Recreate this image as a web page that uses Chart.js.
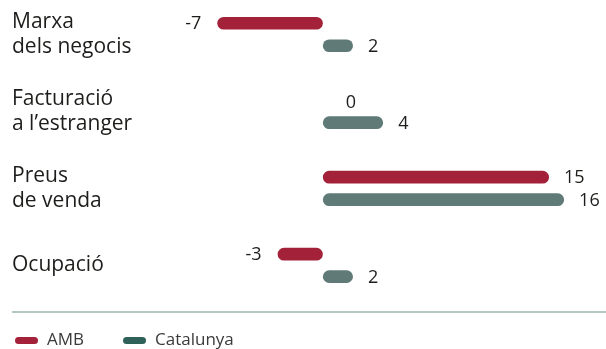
<!DOCTYPE html>
<html>
<head>
<meta charset="utf-8">
<script src="https://cdn.jsdelivr.net/npm/chart.js@4/dist/chart.umd.min.js"></script>
<style>
html,body{margin:0;padding:0;background:#fff;}
#wrap{position:relative;width:606px;height:349px;}
</style>
</head>
<body>
<div id="wrap"><canvas id="c"></canvas></div>
<script>
const categories = [["Marxa", "dels negocis"], ["Facturació", "a l’estranger"], ["Preus", "de venda"], "Ocupació"];
const seriesNames = ["AMB", "Catalunya"];
const ambValues = [-7, 0, 15, -3];
const catalunyaValues = [2, 4, 16, 2];

const RED = "#a32139";
const GREY = "#5f7a77";
const LEGEND_GREY = "#2f6159";
const TEXT = "#1d1d1b";

const valueLabels = {
  id: "valueLabels",
  afterDatasetsDraw(chart) {
    const ctx = chart.ctx;
    ctx.save();
    ctx.font = "18px 'Open Sans'";
    ctx.fillStyle = TEXT;
    ctx.textBaseline = "middle";
    chart.data.datasets.forEach((ds, di) => {
      const meta = chart.getDatasetMeta(di);
      meta.data.forEach((el, i) => {
        const v = ds.data[i];
        let x, dy = 1;
        if (v > 0) { ctx.textAlign = "left"; x = el.x + 15; }
        else if (v < 0) { ctx.textAlign = "right"; x = el.x - 16; }
        else { ctx.textAlign = "left"; x = el.x + 23; dy = 3; }
        ctx.fillText(String(v), x, el.y + dy);
      });
    });
    ctx.restore();
  }
};

const bottomLegend = {
  id: "bottomLegend",
  afterDraw(chart) {
    const ctx = chart.ctx;
    ctx.save();
    ctx.strokeStyle = "#6a8f89";
    ctx.lineWidth = 1.2;
    ctx.beginPath();
    ctx.moveTo(12, 312);
    ctx.lineTo(606, 312);
    ctx.stroke();
    const items = [
      { text: chart.data.datasets[0].label, color: RED, x: 15 },
      { text: chart.data.datasets[1].label, color: LEGEND_GREY, x: 123 }
    ];
    const y = 340.5;
    ctx.font = "17px 'Open Sans'";
    ctx.textBaseline = "middle";
    ctx.textAlign = "left";
    items.forEach(it => {
      ctx.strokeStyle = it.color;
      ctx.lineWidth = 7;
      ctx.lineCap = "round";
      ctx.beginPath();
      ctx.moveTo(it.x + 3.5, y);
      ctx.lineTo(it.x + 19.5, y);
      ctx.stroke();
      ctx.fillStyle = "#3a3a3a";
      ctx.fillText(it.text, it.x + 32, y);
    });
    ctx.restore();
  }
};

new Chart(document.getElementById("c"), {
  type: "bar",
  data: {
    labels: categories,
    datasets: [
      { label: seriesNames[0], data: ambValues, backgroundColor: RED },
      { label: seriesNames[1], data: catalunyaValues, backgroundColor: GREY }
    ]
  },
  options: {
    indexAxis: "y",
    responsive: true,
    maintainAspectRatio: false,
    animation: false,
    layout: { padding: { left: 12, right: 26.8, top: 34.5, bottom: 83.6 } },
    datasets: {
      bar: {
        categoryPercentage: 0.584,
        barPercentage: 0.564,
        borderRadius: 20,
        borderSkipped: false,
        clip: false
      }
    },
    scales: {
      x: { type: "linear", min: -8, max: 17, display: false },
      y: {
        type: "category",
        offset: false,
        grid: { display: false },
        border: { display: false },
        ticks: {
          crossAlign: "far",
          color: TEXT,
          font: { family: "'Open Sans'", size: 21, lineHeight: "25px" },
          padding: 0
        },
        afterFit(scale) { scale.width = 190.2; }
      }
    },
    plugins: {
      legend: { display: false },
      tooltip: { enabled: false }
    }
  },
  plugins: [valueLabels, bottomLegend]
});
</script>
</body>
</html>
